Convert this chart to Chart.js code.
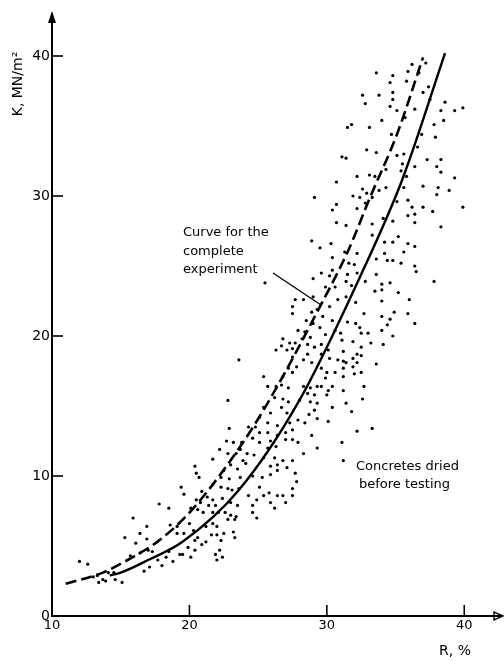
<!DOCTYPE html>
<html>
<head>
<meta charset="utf-8">
<script src="https://cdn.jsdelivr.net/npm/chart.js@4/dist/chart.umd.min.js"></script>
<style>
  html, body { margin: 0; padding: 0; background: #fff; }
  #wrap { width: 504px; height: 661px; }
</style>
</head>
<body>
<div id="wrap"><canvas id="chart" width="504" height="661"></canvas></div>
<script>
// Individual specimens: [R, %  ,  K, MN/m²]
const specimens = [
  [19.4,9.2],[19.6,8.7],[17.8,8.0],[18.5,7.7],[15.9,7.0],[16.9,6.4],[16.4,5.9],[18.6,6.5],[19.1,6.4],
  [15.3,5.6],[16.1,5.2],[16.9,5.5],[19.1,5.9],[19.6,5.9],[17.0,4.7],[16.4,4.5],[15.7,4.3],[17.3,4.6],
  [18.5,4.6],[17.7,4.0],[18.3,4.2],[19.3,4.4],[18.8,3.9],[18.0,3.6],[17.1,3.5],[16.7,3.2],[12.0,3.9],
  [12.6,3.7],[14.1,3.1],[13.3,2.9],[13.7,2.6],[13.4,2.4],[13.9,2.5],[14.5,3.1],[14.6,2.6],[15.1,2.4],
  [13.0,2.8],
  [22.8,15.4],[24.3,13.5],[22.9,13.4],[23.8,12.4],[22.7,12.5],[23.2,12.4],[23.7,11.9],[24.2,11.6],
  [22.2,11.9],[22.8,11.6],[23.4,11.6],[21.7,11.2],[23.9,11.1],[24.1,10.9],[23.0,10.8],[23.5,10.5],
  [22.5,10.4],[20.4,10.7],[20.5,10.2],[20.7,9.9],[22.3,9.9],[22.9,9.8],[23.7,9.9],[24.6,10.0],
  [25.3,9.9],[25.9,10.1],[26.4,10.4],[27.7,10.2],[27.8,9.6],[21.7,9.4],[22.3,9.2],[22.8,9.1],
  [23.1,9.0],[23.6,9.1],[25.1,9.2],[27.5,9.1],[20.9,8.9],[21.3,8.5],[21.7,8.3],[20.5,8.3],[20.8,8.1],
  [21.4,7.9],[21.9,7.9],[22.4,8.4],[23.0,8.1],[23.5,7.9],[24.3,8.6],[24.9,8.3],[25.4,8.6],[25.8,8.8],
  [26.4,8.6],[26.8,8.6],[27.5,8.6],[27.0,8.1],[25.9,8.1],[26.2,7.7],[24.6,7.9],[24.6,7.4],[24.9,7.0],
  [20.1,7.7],[20.6,7.6],[21.0,7.4],[21.7,7.4],[22.1,7.4],[22.6,7.4],[23.0,7.2],[23.4,7.1],[22.8,6.9],
  [23.3,6.9],[21.7,6.6],[21.2,6.4],[22.0,6.4],[22.5,5.9],[21.6,5.8],[22.0,5.8],[23.2,6.0],[23.3,5.6],
  [20.0,6.6],[20.3,6.1],[20.6,5.6],[20.9,5.1],[20.4,5.4],[21.2,5.3],[22.3,5.4],[19.9,4.9],[19.5,4.4],
  [20.1,4.2],[20.4,4.7],[22.2,4.7],[21.9,4.4],[22.0,4.0],[22.4,4.2],
  [25.5,23.8],[29.0,24.1],[29.6,24.5],[30.2,24.3],[30.4,24.7],[30.4,25.6],[29.9,23.5],[30.6,23.5],
  [27.7,22.6],[28.3,22.6],[29.0,22.8],[30.8,22.6],[27.5,22.1],[27.5,21.6],[28.9,21.7],[29.3,21.9],
  [30.2,22.1],[29.7,21.4],[30.4,21.1],[28.5,21.1],[29.0,20.9],[29.5,20.6],[27.9,20.4],[28.4,20.3],
  [29.9,20.1],[30.6,20.4],[28.8,19.9],[28.2,19.8],[26.8,19.8],[27.3,19.5],[27.7,19.5],[26.3,19.0],
  [26.7,19.3],[27.1,19.0],[27.5,19.1],[28.6,19.4],[29.1,19.2],[29.6,19.4],[30.1,19.0],[29.6,18.7],
  [27.5,18.5],[28.6,18.7],[28.3,18.3],[28.9,18.1],[30.2,18.4],[30.8,18.3],[27.8,17.8],[27.2,17.7],
  [29.6,17.7],[30.0,17.4],[30.6,17.4],[25.4,17.1],[26.8,17.1],[27.5,17.4],[29.9,17.0],[25.7,16.4],
  [26.3,16.4],[26.7,16.5],[27.2,16.3],[28.3,16.4],[28.8,16.3],[29.3,16.4],[29.6,16.4],[30.1,16.1],
  [30.4,16.4],[28.6,15.9],[29.1,15.8],[30.0,15.8],[26.2,15.6],[26.8,15.5],[27.2,15.3],[28.0,15.4],
  [28.8,15.3],[29.3,15.2],[30.4,14.9],[25.4,14.9],[25.9,14.5],[26.7,14.9],[27.1,14.5],[28.7,14.4],
  [29.1,14.7],[29.3,14.1],[30.1,13.9],[25.1,14.2],[25.7,13.8],[24.8,13.5],[25.1,13.1],[26.4,13.6],
  [27.3,13.8],[27.9,14.0],[28.4,13.8],[25.7,13.1],[26.4,12.9],[27.0,13.1],[27.5,13.3],[28.9,12.9],
  [24.6,12.7],[25.1,12.4],[25.9,12.5],[27.0,12.6],[27.5,12.6],[27.9,12.4],[29.3,12.0],[25.7,12.0],
  [26.3,12.1],[24.7,11.5],[25.4,11.3],[26.2,11.3],[26.8,11.1],[27.5,11.1],[28.3,11.6],[25.9,10.7],
  [26.4,10.8],[27.1,10.6],[23.6,18.3],
  [32.2,25.9],[34.2,25.9],[35.6,26.0],[34.4,25.4],[34.8,25.4],[35.4,25.2],[33.6,25.5],[36.4,25.0],
  [36.5,24.6],[37.8,23.9],[31.6,25.2],[32.0,25.1],[31.5,24.4],[32.2,24.5],[33.6,24.4],[31.4,23.9],
  [32.8,23.9],[34.0,23.7],[34.6,23.8],[31.8,23.6],[33.5,23.2],[34.0,23.3],[35.2,23.1],[31.4,22.8],
  [32.1,22.4],[34.0,22.5],[36.0,22.6],[34.9,21.7],[35.9,21.6],[32.7,21.6],[34.0,21.4],[34.6,21.2],
  [36.4,20.9],[34.4,20.8],[31.5,21.0],[32.1,20.9],[32.4,20.6],[34.0,20.4],[32.5,20.2],[33.0,20.2],
  [34.8,20.0],[31.9,19.6],[33.2,19.5],[34.1,19.4],[31.0,20.2],[31.1,19.7],[32.5,19.2],[31.2,18.9],
  [32.2,18.7],[32.5,18.6],[31.9,18.4],[31.2,18.2],[31.4,18.1],[32.2,18.1],[31.9,17.8],[33.6,18.0],
  [31.2,17.7],[32.0,17.3],[32.5,17.4],[31.2,17.1],[31.2,16.1],[32.7,16.4],[32.6,15.5],[31.4,15.2],
  [31.8,14.6],[32.2,13.2],[33.3,13.4],[31.1,12.4],[31.2,11.1],
  [33.6,38.8],[32.6,37.2],[33.8,37.2],[32.8,36.6],[34.0,35.4],[31.8,35.1],[31.5,34.9],[33.1,34.9],
  [32.9,33.3],[33.6,33.1],[31.1,32.8],[31.4,32.7],[34.3,31.9],[33.1,31.5],[33.5,31.4],[32.2,31.4],
  [30.7,31.0],[34.3,30.6],[32.6,30.5],[32.9,30.2],[33.8,30.4],[31.9,30.0],[32.4,29.9],[29.1,29.9],
  [33.3,29.9],[32.8,29.5],[30.7,29.4],[32.2,29.1],[30.4,29.0],[34.1,28.4],[30.7,28.1],[31.4,27.9],
  [33.3,28.0],[33.3,27.2],[28.9,26.8],[29.5,26.3],[30.3,26.6],[34.2,26.7],[31.3,26.0],[34.6,36.4],
  [36.2,39.4],[37.2,39.5],[35.9,38.9],[34.8,38.6],[35.8,38.2],[34.6,38.1],[34.8,37.4],[34.8,36.9],
  [37.0,37.4],[37.4,37.8],[37.5,36.9],[35.1,36.1],[36.4,36.2],[38.6,36.7],[38.3,36.1],[39.3,36.1],
  [39.9,36.3],[38.5,35.4],[37.8,35.1],[34.7,34.4],[36.9,34.4],[37.9,34.2],[35.1,32.9],[35.6,33.0],
  [36.6,33.5],[35.5,32.3],[37.3,32.6],[38.3,32.6],[36.4,32.1],[35.4,31.8],[38.0,32.1],[38.3,31.7],
  [35.8,31.4],[39.3,31.3],[35.6,30.6],[37.0,30.7],[38.1,30.6],[38.9,30.4],[38.0,30.1],[35.1,29.6],
  [35.9,29.7],[36.2,29.2],[37.0,29.2],[37.7,28.9],[39.9,29.2],[35.9,28.6],[36.4,28.7],[34.8,28.2],
  [36.4,28.1],[38.3,27.8],[34.8,26.7],[35.2,27.1],[35.9,26.6],[36.4,26.4],[36.7,38.8],[35.7,35.6]
];

// Fitted curve for the concretes dried before testing (solid)
const driedCurveR = [14.2, 15.0, 17.0, 19.5, 23.6, 28.0, 32.4, 35.5, 38.6];
const driedCurveK = [ 2.9,  3.1,  4.0,  5.3,  9.0, 15.4, 24.2, 31.2, 40.2];

// Curve for the complete experiment (dashed)
const completeCurveR = [11.0, 13.7, 15.5, 17.8, 20.2, 23.9, 26.1, 29.5, 31.6, 33.1, 35.1, 37.0];
const completeCurveK = [ 2.3,  3.1,  4.0,  5.4,  7.6, 12.4, 15.9, 22.1, 26.2, 29.8, 34.4, 39.9];

const xTickValues = [10, 20, 30, 40];
const yTickValues = [0, 10, 20, 30, 40];

const xAxisTitle = 'R, %';
const yAxisTitle = 'K, MN/m²';
const completeLabel = ['Curve for the', 'complete', 'experiment'];
const driedLabel = ['Concretes dried', 'before testing'];
const leaderTarget = [29.6, 22.2];

const toPoints = (xs, ys) => xs.map((v, i) => ({ x: v, y: ys[i] }));
const FONT = '"DejaVu Sans", "Liberation Sans", sans-serif';

// Inward tick marks, axis arrowheads, axis titles and the two notes
const chartDecor = {
  id: 'chartDecor',
  afterDraw(chart) {
    const { ctx, chartArea: a, scales: { x, y } } = chart;
    ctx.save();
    ctx.strokeStyle = '#000';
    ctx.fillStyle = '#000';
    ctx.lineCap = 'butt';

    const seg = (x1, y1, x2, y2) => { ctx.beginPath(); ctx.moveTo(x1, y1); ctx.lineTo(x2, y2); ctx.stroke(); };

    ctx.lineWidth = 1.6;
    xTickValues.forEach(v => {
      if (v === x.min) return;
      const px = x.getPixelForValue(v);
      seg(px, a.bottom, px, a.bottom - 11);
    });
    yTickValues.forEach(v => {
      if (v === y.min) return;
      const py = y.getPixelForValue(v);
      seg(a.left, py, a.left + 11, py);
    });

    // arrowheads
    ctx.lineWidth = 1.4;
    ctx.beginPath();
    ctx.moveTo(a.left, a.top - 3);
    ctx.lineTo(a.left - 4, a.top + 9);
    ctx.lineTo(a.left + 4, a.top + 9);
    ctx.closePath();
    ctx.fill();
    ctx.beginPath();
    ctx.moveTo(a.right + 3, a.bottom);
    ctx.lineTo(a.right - 6, a.bottom - 4);
    ctx.lineTo(a.right - 6, a.bottom + 4);
    ctx.closePath();
    ctx.stroke();

    // axis titles
    ctx.font = '14px ' + FONT;
    ctx.textBaseline = 'middle';
    ctx.textAlign = 'center';
    ctx.fillText(xAxisTitle, 455, 651);
    ctx.save();
    ctx.translate(18, 84);
    ctx.rotate(-Math.PI / 2);
    ctx.fillText(yAxisTitle, 0, 0);
    ctx.restore();

    // notes
    ctx.font = '13px ' + FONT;
    ctx.textAlign = 'left';
    completeLabel.forEach((t, i) => ctx.fillText(t, 183, 233 + i * 18.5));
    driedLabel.forEach((t, i) => ctx.fillText(t, 356 + i * 3, 467 + i * 18));

    // leader from the note to the dashed curve
    ctx.lineWidth = 1.3;
    seg(273, 273, x.getPixelForValue(leaderTarget[0]), y.getPixelForValue(leaderTarget[1]));
    ctx.restore();
  }
};

new Chart(document.getElementById('chart'), {
  type: 'scatter',
  data: {
    datasets: [
      {
        label: 'Specimens',
        data: specimens.map(p => ({ x: p[0], y: p[1] })),
        pointRadius: 1.6,
        pointBackgroundColor: '#000',
        pointBorderWidth: 0,
        showLine: false
      },
      {
        label: 'Concretes dried before testing',
        data: toPoints(driedCurveR, driedCurveK),
        showLine: true,
        borderColor: '#000',
        borderWidth: 2.4,
        pointRadius: 0,
        cubicInterpolationMode: 'monotone'
      },
      {
        label: 'Curve for the complete experiment',
        data: toPoints(completeCurveR, completeCurveK),
        showLine: true,
        borderColor: '#000',
        borderWidth: 2.6,
        borderDash: [11, 5],
        pointRadius: 0,
        cubicInterpolationMode: 'monotone'
      }
    ]
  },
  options: {
    responsive: false,
    animation: false,
    devicePixelRatio: 1,
    layout: { padding: { left: 0, top: 14, right: 3, bottom: 0 } },
    plugins: { legend: { display: false }, tooltip: { enabled: false } },
    scales: {
      x: {
        type: 'linear',
        min: 10,
        max: 42.6,
        afterBuildTicks: s => { s.ticks = xTickValues.map(v => ({ value: v })); },
        afterFit: s => { s.height = 45; },
        grid: { display: false, drawTicks: false },
        border: { display: true, color: '#000', width: 2 },
        ticks: { color: '#000', padding: 2, font: { family: FONT, size: 13 } }
      },
      y: {
        type: 'linear',
        min: 0,
        max: 43,
        afterBuildTicks: s => { s.ticks = yTickValues.map(v => ({ value: v })); },
        afterFit: s => { s.width = 52; },
        grid: { display: false, drawTicks: false },
        border: { display: true, color: '#000', width: 2 },
        ticks: { color: '#000', padding: 2, font: { family: FONT, size: 14 } }
      }
    }
  },
  plugins: [chartDecor]
});
</script>
</body>
</html>
